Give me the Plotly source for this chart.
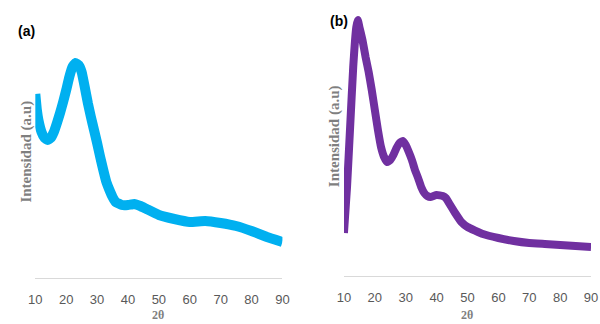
import plotly.graph_objects as go

# Panel (a) - XRD pattern (intensity in arbitrary units)
two_theta_a = [10, 10.5, 11, 12, 13, 14, 15, 16, 17, 18, 19, 20, 21, 22, 23, 24, 25, 26, 27, 28, 29,
               30, 31, 32, 33, 34, 35, 36, 38, 40, 42, 44, 46, 50, 55, 60, 65, 70, 75, 80, 85, 90]
intensity_a = [184, 168, 158, 146, 140, 138, 140, 146, 155, 165, 176, 188, 201, 211, 215, 213, 206,
               191, 175, 161, 148, 135, 121, 108, 96, 88, 81, 76, 73, 73, 74, 72, 69, 63, 59, 56,
               57, 55, 52, 47, 41, 36]

# Panel (b) - XRD pattern (intensity in arbitrary units)
two_theta_b = [10, 11, 12, 13, 14, 14.5, 15, 16, 17, 18, 19, 20, 21, 22, 23, 24, 25, 26, 27, 28, 29,
               30, 31, 32, 33, 34, 35, 36, 37, 38, 40, 42, 43, 44, 46, 48, 50, 55, 60, 65, 70, 75,
               80, 85, 90]
intensity_b = [43, 89, 149, 209, 249, 256, 249, 236, 219, 204, 186, 166, 146, 129, 119, 114, 116,
               121, 128, 133, 135, 131, 124, 116, 106, 98, 89, 83, 80, 79, 81, 80, 78, 73, 63, 54,
               49, 42, 38, 35, 33, 32, 31, 30, 29]

x_ticks = [10, 20, 30, 40, 50, 60, 70, 80, 90]
panel_labels = ["(a)", "(b)"]
y_title = "Intensidad (a.u)"
x_title = "2θ"

W, H = 600, 324
fig = go.Figure()

fig.add_trace(go.Scatter(x=two_theta_a, y=intensity_a, mode="lines",
                         line=dict(color="#00B0F0", width=10, shape="spline", smoothing=0.3),
                         xaxis="x", yaxis="y", showlegend=False))
fig.add_trace(go.Scatter(x=two_theta_b, y=intensity_b, mode="lines",
                         line=dict(color="#7030A0", width=8, shape="spline", smoothing=0.3),
                         xaxis="x2", yaxis="y2", showlegend=False))

def px_x(p):
    return p / W

def px_y(p):
    return 1 - p / H

tick_font = dict(family="Liberation Sans", size=13, color="#595959")
xcommon = dict(range=[10, 90], tickvals=x_ticks, showgrid=False, zeroline=False, showline=True,
               linecolor="#d9d9d9", linewidth=1, ticks="outside", ticklen=9,
               tickcolor="rgba(0,0,0,0)", tickfont=tick_font)
ycommon = dict(range=[0, 268], showgrid=False, zeroline=False, showline=False,
               showticklabels=False, ticks="")

fig.update_layout(
    width=W, height=H, margin=dict(l=0, r=0, t=0, b=0),
    paper_bgcolor="white", plot_bgcolor="white",
    xaxis=dict(domain=[px_x(29), px_x(282)], anchor="y", **xcommon),
    yaxis=dict(domain=[px_y(278), px_y(10)], anchor="x", **ycommon),
    xaxis2=dict(domain=[px_x(345), px_x(598)], anchor="y2", **xcommon),
    yaxis2=dict(domain=[px_y(276), px_y(8)], anchor="x2", **ycommon),
)

ann = []
# panel labels
ann.append(dict(x=px_x(20), y=px_y(31), xref="paper", yref="paper", text="<b>" + panel_labels[0] + "</b>",
                showarrow=False, font=dict(family="Liberation Sans", size=14, color="black"),
                xanchor="center", yanchor="middle"))
ann.append(dict(x=px_x(340), y=px_y(21), xref="paper", yref="paper", text="<b>" + panel_labels[1] + "</b>",
                showarrow=False, font=dict(family="Liberation Sans", size=14, color="black"),
                xanchor="center", yanchor="middle"))
# y titles
for xc, yc in [(19, 152), (335, 136)]:
    ann.append(dict(x=px_x(xc), y=px_y(yc), xref="paper", yref="paper", text="<b>" + y_title + "</b>",
                    showarrow=False, textangle=-90,
                    font=dict(family="Liberation Serif", size=15, color="#7f7f7f"),
                    xanchor="center", yanchor="middle"))
# x titles
for xc, yc in [(155, 315), (471, 315)]:
    ann.append(dict(x=px_x(xc), y=px_y(yc), xref="paper", yref="paper", text="<b>" + x_title + "</b>",
                    showarrow=False, font=dict(family="Liberation Serif", size=12, color="#7f7f7f"),
                    xanchor="center", yanchor="middle"))
fig.update_layout(annotations=ann)

fig.write_html("out.html")
